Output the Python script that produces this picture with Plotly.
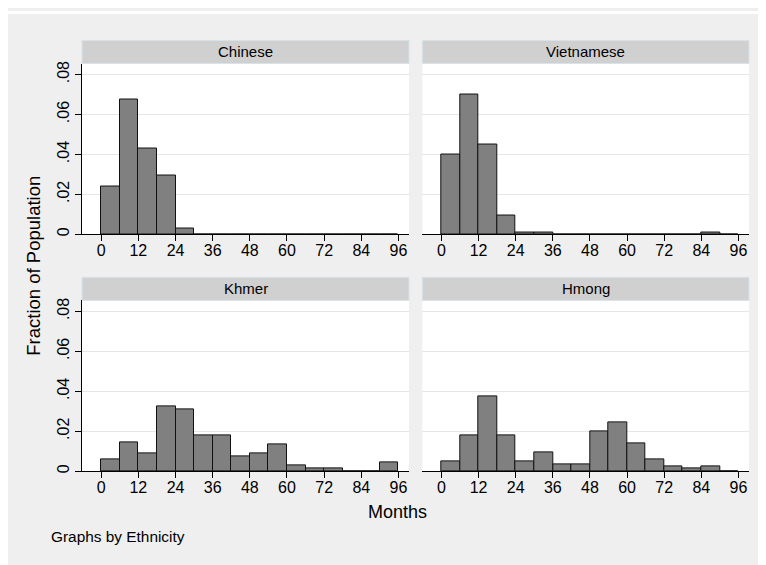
import plotly.graph_objects as go

# page body has an 8px margin; figure is sized/positioned to compensate
OFF = 8
W, H = 766 - OFF, 565 - OFF

# ---- data ----
bin_starts = [0, 6, 12, 18, 24, 30, 36, 42, 48, 54, 60, 66, 72, 78, 84, 90]
bin_width = 6
ethnicities = ["Chinese", "Vietnamese", "Khmer", "Hmong"]
chinese = [0.0241, 0.0673, 0.0430, 0.0294, 0.0028, 0, 0, 0, 0, 0, 0, 0, 0, 0, 0, 0]
vietnamese = [0.0398, 0.0698, 0.0451, 0.0093, 0.0010, 0.0010, 0, 0, 0, 0, 0, 0, 0, 0, 0.0010, 0]
khmer = [0.0058, 0.0145, 0.0088, 0.0322, 0.0307, 0.0177, 0.0177, 0.0074, 0.0088,
         0.0132, 0.0030, 0.0015, 0.0015, 0, 0, 0.0045]
hmong = [0.0048, 0.0177, 0.0374, 0.0177, 0.0048, 0.0094, 0.0036, 0.0036, 0.0199,
         0.0245, 0.0141, 0.0060, 0.0025, 0.0013, 0.0025, 0]
series = [chinese, vietnamese, khmer, hmong]

x_tickvals = [0, 12, 24, 36, 48, 60, 72, 84, 96]
y_tickvals = [0, 0.02, 0.04, 0.06, 0.08]
y_ticktext = ["0", ".02", ".04", ".06", ".08"]

# ---- layout helpers (page pixel -> paper) ----
def px(x):
    return (x - OFF) / W

def py(y):
    return 1 - (y - OFF) / H

FONT = "Liberation Sans, Arial, Helvetica, sans-serif"
BG = "#EFEFEF"
STRIP = "#D0D0D0"
GRID = "#E6E6E6"

cols = [(82, 409), (422.3, 749)]
rows = [(61, 233.3), (300, 472.3)]
strips = [(37.7, 61), (276.7, 300)]

fig = go.Figure()
shapes = []
annotations = []

for i, (name, vals) in enumerate(zip(ethnicities, series)):
    r, c = divmod(i, 2)
    n = i + 1
    xa = "x" if n == 1 else f"x{n}"
    ya = "y" if n == 1 else f"y{n}"
    centers = [s + bin_width / 2 for s in bin_starts]
    fig.add_trace(go.Bar(
        x=centers, y=vals, width=bin_width,
        marker=dict(color="#808080", line=dict(color="#111111", width=1)),
        xaxis=xa, yaxis=ya, showlegend=False,
    ))
    x0, x1 = cols[c]
    y0, y1 = rows[r]
    xkey = "xaxis" if n == 1 else f"xaxis{n}"
    ykey = "yaxis" if n == 1 else f"yaxis{n}"
    fig.layout[xkey] = dict(
        domain=[px(x0), px(x1)], anchor=ya, range=[-6.2, 99.4],
        tickvals=x_tickvals, ticks="outside", ticklen=6, tickwidth=1, tickcolor="black",
        ticklabelstandoff=-4,
        showline=True, linecolor="black", linewidth=1, showgrid=False, zeroline=False,
        tickfont=dict(family=FONT, size=16, color="black"), fixedrange=True,
    )
    left = (c == 0)
    fig.layout[ykey] = dict(
        domain=[py(y1), py(y0)], anchor=xa, range=[0, 0.0855],
        tickvals=y_tickvals, ticktext=y_ticktext,
        ticks="outside" if left else "", ticklen=6, tickwidth=1, tickcolor="black",
        showticklabels=left, tickangle=-90,
        showline=left, linecolor="black", linewidth=1,
        showgrid=True, gridcolor=GRID, gridwidth=1, zeroline=False,
        tickfont=dict(family=FONT, size=16, color="black"), fixedrange=True,
    )
    sy0, sy1 = strips[r]
    shapes.append(dict(type="rect", xref="paper", yref="paper",
                       x0=px(x0), x1=px(x1), y0=py(sy1), y1=py(sy0),
                       fillcolor=STRIP, line=dict(color="#D8E3EA", width=1), layer="below"))
    annotations.append(dict(text=name, xref="paper", yref="paper",
                            x=px((x0 + x1) / 2), y=py((sy0 + sy1) / 2),
                            xanchor="center", yanchor="middle", showarrow=False,
                            font=dict(family=FONT, size=15, color="black")))

# white outer margin at top
shapes.append(dict(type="rect", xref="paper", yref="paper", x0=0, x1=1, y0=py(11), y1=1,
                   fillcolor="white", line=dict(width=0), layer="below"))

annotations.append(dict(text="Fraction of Population", xref="paper", yref="paper",
                        x=px(34), y=py(265), xanchor="center", yanchor="middle",
                        textangle=-90, showarrow=False,
                        font=dict(family=FONT, size=18.5, color="black")))
annotations.append(dict(text="Months", xref="paper", yref="paper",
                        x=px(397), y=py(514), xanchor="center", yanchor="middle",
                        showarrow=False, font=dict(family=FONT, size=18, color="black")))
annotations.append(dict(text="Graphs by Ethnicity", xref="paper", yref="paper",
                        x=px(49), y=py(538), xanchor="left", yanchor="middle",
                        showarrow=False, font=dict(family=FONT, size=15.4, color="black")))

fig.update_layout(
    width=W, height=H, margin=dict(l=0, r=0, t=0, b=0),
    paper_bgcolor=BG, plot_bgcolor="white", bargap=0,
    shapes=shapes, annotations=annotations,
    font=dict(family=FONT),
)

fig.write_html("out.html")
